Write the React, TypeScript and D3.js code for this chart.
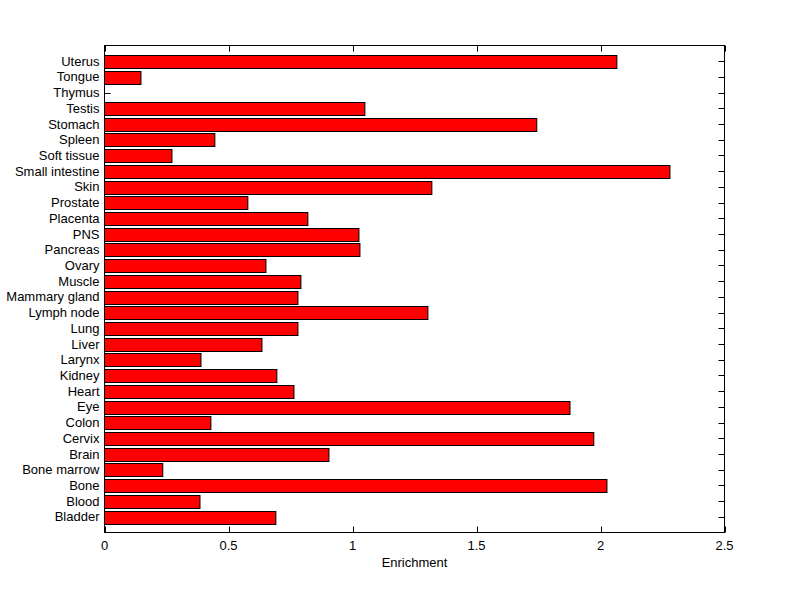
import React from "react";
import * as d3 from "d3";

const categories = [
  "Bladder", "Blood", "Bone", "Bone marrow", "Brain", "Cervix", "Colon", "Eye", "Heart", "Kidney",
  "Larynx", "Liver", "Lung", "Lymph node", "Mammary gland", "Muscle", "Ovary", "Pancreas", "PNS", "Placenta",
  "Prostate", "Skin", "Small intestine", "Soft tissue", "Spleen", "Stomach", "Testis", "Thymus", "Tongue", "Uterus",
];
const enrichment = [
  0.691, 0.385, 2.026, 0.235, 0.905, 1.973, 0.429, 1.877, 0.764, 0.695,
  0.389, 0.635, 0.78, 1.304, 0.78, 0.792, 0.651, 1.03, 1.026, 0.82,
  0.578, 1.32, 2.28, 0.272, 0.445, 1.743, 1.05, 0, 0.147, 2.066,
];
const xTicks = [0, 0.5, 1, 1.5, 2, 2.5];
const xLabel = "Enrichment";

export default function App() {
  const W = 800, H = 599;
  const left = 104.5, right = 724.5, top = 45.5, bottom = 532.5;
  const x = d3.scaleLinear().domain([0, 2.5]).range([left, right]);
  const y = d3.scaleLinear().domain([0, categories.length + 1]).range([bottom, top]);
  const bh = (y(0) - y(0.8));
  const font = "'Liberation Sans', Arial, Helvetica, sans-serif";
  const tl = 6;
  return (
    <div style={{ position: "absolute", left: 0, top: 0 }}>
      <svg width={W} height={H} style={{ display: "block", background: "#fff" }}>
        <rect x={0} y={0} width={W} height={H} fill="#fff" />
        {categories.map((c, i) => (
          <g key={"yt" + c}>
            <line x1={left} x2={left + tl} y1={Math.round(y(i + 1)) + 0.5} y2={Math.round(y(i + 1)) + 0.5} stroke="#000" />
            <line x1={right} x2={right - tl} y1={Math.round(y(i + 1)) + 0.5} y2={Math.round(y(i + 1)) + 0.5} stroke="#000" />
            <text x={left - 5} y={y(i + 1)} dy="0.35em" textAnchor="end" fontFamily={font} fontSize={13} fill="#000">{c}</text>
          </g>
        ))}
        {xTicks.map((t) => (
          <g key={"xt" + t}>
            <line x1={Math.round(x(t)) + 0.5} x2={Math.round(x(t)) + 0.5} y1={bottom} y2={bottom - tl} stroke="#000" />
            <line x1={Math.round(x(t)) + 0.5} x2={Math.round(x(t)) + 0.5} y1={top} y2={top + tl} stroke="#000" />
            <text x={x(t)} y={bottom + 13} dy="0.35em" textAnchor="middle" fontFamily={font} fontSize={13} fill="#000">{String(t)}</text>
          </g>
        ))}
        {enrichment.map((v, i) => v > 0 && (
          <rect key={"b" + i} x={x(0)} y={Math.round(y(i + 1) - bh / 2) + 0.5} width={x(v) - x(0)} height={Math.round(bh)} fill="#ff0000" stroke="#000" strokeWidth={1} />
        ))}
        <rect x={left} y={top} width={right - left} height={bottom - top} fill="none" stroke="#000" strokeWidth={1} />
        <text x={(left + right) / 2} y={562.5} dy="0.35em" textAnchor="middle" fontFamily={font} fontSize={13} fill="#000">{xLabel}</text>
      </svg>
    </div>
  );
}
